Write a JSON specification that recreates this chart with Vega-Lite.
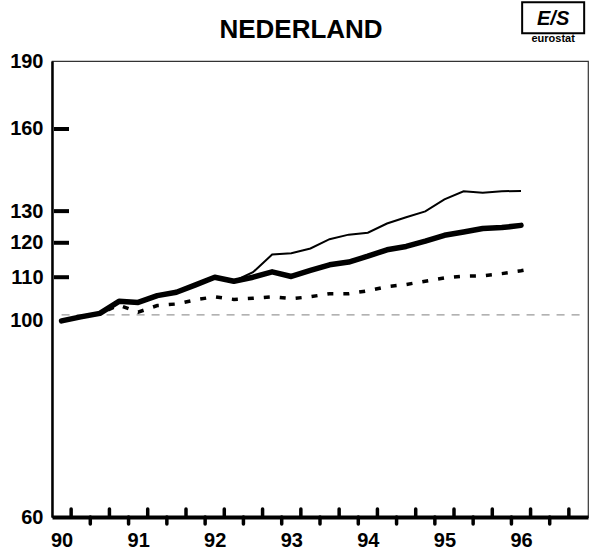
{
  "$schema": "https://vega.github.io/schema/vega-lite/v6.json",
  "autosize": "none",
  "bounds": "flush",
  "width": 536,
  "height": 456,
  "padding": {"left": 52, "top": 61, "right": 1, "bottom": 42},
  "background": "white",
  "title": {
    "text": "NEDERLAND",
    "font": "Liberation Sans",
    "fontSize": 26,
    "fontWeight": "bold",
    "color": "black",
    "anchor": "middle",
    "baseline": "alphabetic",
    "offset": -63,
    "dx": -19
  },
  "config": {
    "view": {"stroke": "#333", "strokeWidth": 1.2},
    "font": "Liberation Sans"
  },
  "datasets": {
    "series": [
      {"t": 1990.125, "thick": 98.5, "thin": 98.5, "dotted": 98.5},
      {"t": 1990.375, "thick": 99.5, "thin": 99.5, "dotted": 99.5},
      {"t": 1990.625, "thick": 100.4, "thin": 100.4, "dotted": 100.4},
      {"t": 1990.875, "thick": 103.5, "thin": 103.5, "dotted": 102.5},
      {"t": 1991.125, "thick": 103.2, "thin": 103.2, "dotted": 100.7},
      {"t": 1991.375, "thick": 105.0, "thin": 105.0, "dotted": 102.4},
      {"t": 1991.625, "thick": 105.9, "thin": 105.9, "dotted": 102.8},
      {"t": 1991.875, "thick": 107.9, "thin": 107.9, "dotted": 103.9},
      {"t": 1992.125, "thick": 110.0, "thin": 110.0, "dotted": 104.7},
      {"t": 1992.375, "thick": 108.9, "thin": 108.9, "dotted": 104.0},
      {"t": 1992.625, "thick": 110.0, "thin": 111.4, "dotted": 104.3},
      {"t": 1992.875, "thick": 111.5, "thin": 116.5, "dotted": 104.7},
      {"t": 1993.125, "thick": 110.2, "thin": 116.9, "dotted": 104.2},
      {"t": 1993.375, "thick": 111.9, "thin": 118.3, "dotted": 104.7},
      {"t": 1993.625, "thick": 113.5, "thin": 121.1, "dotted": 105.5},
      {"t": 1993.875, "thick": 114.3, "thin": 122.5, "dotted": 105.5},
      {"t": 1994.125, "thick": 116.0, "thin": 123.1, "dotted": 106.3},
      {"t": 1994.375, "thick": 117.9, "thin": 126.0, "dotted": 107.4},
      {"t": 1994.625, "thick": 118.9, "thin": 128.0, "dotted": 108.0},
      {"t": 1994.875, "thick": 120.5, "thin": 129.9, "dotted": 108.9},
      {"t": 1995.125, "thick": 122.3, "thin": 133.9, "dotted": 109.8},
      {"t": 1995.375, "thick": 123.3, "thin": 136.7, "dotted": 110.3},
      {"t": 1995.625, "thick": 124.4, "thin": 136.2, "dotted": 110.4},
      {"t": 1995.875, "thick": 124.7, "thin": 136.7, "dotted": 111.0},
      {"t": 1996.125, "thick": 125.4, "thin": 136.8, "dotted": 111.8},
      {"t": 1996.25, "thick": null, "thin": null, "dotted": 112.3}
    ],
    "ticksUp": [
      {"q": 1990.25}, {"q": 1990.75}, {"q": 1991.25}, {"q": 1991.75},
      {"q": 1992.25}, {"q": 1992.75}, {"q": 1993.25}, {"q": 1993.75},
      {"q": 1994.25}, {"q": 1994.75}, {"q": 1995.25}, {"q": 1995.75},
      {"q": 1996.25}, {"q": 1996.75}
    ],
    "ticksDown": [
      {"q": 1990.5}, {"q": 1991.0}, {"q": 1991.5}, {"q": 1992.0},
      {"q": 1992.5}, {"q": 1993.0}, {"q": 1993.5}, {"q": 1994.0},
      {"q": 1994.5}, {"q": 1995.0}, {"q": 1995.5}, {"q": 1996.0},
      {"q": 1996.5}
    ],
    "yTicks": [{"v": 110}, {"v": 120}, {"v": 130}, {"v": 160}]
  },
  "layer": [
    {
      "data": {"values": [{"y": 100, "x1": 1990.125, "x2": 1996.96}]},
      "mark": {"type": "rule", "color": "#999", "strokeWidth": 1.2, "strokeDash": [8, 7]},
      "encoding": {
        "x": {
          "field": "x1",
          "type": "quantitative",
          "scale": {"domain": [1990, 1997], "nice": false, "zero": false},
          "axis": {
            "values": [1990.125, 1991.125, 1992.125, 1993.125, 1994.125, 1995.125, 1996.125],
            "labelExpr": "'' + (floor(datum.value) - 1900)",
            "labelFontSize": 20,
            "labelFontWeight": "bold",
            "labelColor": "black",
            "labelPadding": 13,
            "labelFlush": false,
            "ticks": false,
            "grid": false,
            "domainColor": "black",
            "domainWidth": 4,
            "title": null
          }
        },
        "x2": {"field": "x2"},
        "y": {
          "field": "y",
          "type": "quantitative",
          "scale": {"type": "log", "domain": [60, 190], "nice": false},
          "axis": {
            "values": [60, 100, 110, 120, 130, 160, 190],
            "labelFontSize": 20,
            "labelFontWeight": "bold",
            "labelColor": "black",
            "labelPadding": 9,
            "labelFlush": false,
            "labelOffset": {"condition": {"test": "datum.value == 100", "value": 6}, "value": 0},
            "ticks": false,
            "grid": false,
            "domainColor": "black",
            "domainWidth": 2.5,
            "title": null
          }
        }
      }
    },
    {
      "data": {"name": "series"},
      "mark": {"type": "line", "color": "black", "strokeWidth": 2},
      "encoding": {
        "x": {"field": "t", "type": "quantitative"},
        "y": {"field": "thin", "type": "quantitative"}
      }
    },
    {
      "data": {"name": "series"},
      "mark": {"type": "line", "color": "black", "strokeWidth": 3.5, "strokeDash": [6, 10]},
      "encoding": {
        "x": {"field": "t", "type": "quantitative"},
        "y": {"field": "dotted", "type": "quantitative"}
      }
    },
    {
      "data": {"name": "series"},
      "mark": {"type": "line", "color": "black", "strokeWidth": 5.5, "strokeCap": "round", "strokeJoin": "round"},
      "encoding": {
        "x": {"field": "t", "type": "quantitative"},
        "y": {"field": "thick", "type": "quantitative"}
      }
    },
    {
      "data": {"name": "ticksUp"},
      "mark": {"type": "rule", "color": "black", "strokeWidth": 3.5, "strokeCap": "round", "y2Offset": -8, "clip": false},
      "encoding": {
        "x": {"field": "q", "type": "quantitative"},
        "y": {"datum": 60, "type": "quantitative"},
        "y2": {"datum": 60}
      }
    },
    {
      "data": {"name": "ticksDown"},
      "mark": {"type": "rule", "color": "black", "strokeWidth": 3.5, "strokeCap": "round", "y2Offset": 7, "clip": false},
      "encoding": {
        "x": {"field": "q", "type": "quantitative"},
        "y": {"datum": 60, "type": "quantitative"},
        "y2": {"datum": 60}
      }
    },
    {
      "data": {"name": "yTicks"},
      "mark": {"type": "rule", "color": "black", "strokeWidth": 4, "xOffset": 2, "x2Offset": 17},
      "encoding": {
        "x": {"datum": 1990, "type": "quantitative"},
        "x2": {"datum": 1990},
        "y": {"field": "v", "type": "quantitative"}
      }
    },
    {
      "data": {"values": [{"x1": 1996.14, "x2": 1996.95, "y1": 203.8, "y2": 220.4}]},
      "mark": {"type": "rect", "fill": "white", "stroke": "black", "strokeWidth": 2, "clip": false},
      "encoding": {
        "x": {"field": "x1", "type": "quantitative"},
        "x2": {"field": "x2"},
        "y": {"field": "y1", "type": "quantitative"},
        "y2": {"field": "y2"}
      }
    },
    {
      "data": {"values": [{"x": 1996.545, "y": 211.5, "label": "E/S"}]},
      "mark": {"type": "text", "font": "Liberation Sans", "fontSize": 20, "fontWeight": "bold", "fontStyle": "italic", "color": "black", "baseline": "middle", "align": "center", "clip": false},
      "encoding": {
        "x": {"field": "x", "type": "quantitative"},
        "y": {"field": "y", "type": "quantitative"},
        "text": {"field": "label"}
      }
    },
    {
      "data": {"values": [{"x": 1996.545, "y": 200.8, "label": "eurostat"}]},
      "mark": {"type": "text", "font": "Liberation Sans", "fontSize": 11, "fontWeight": "bold", "color": "black", "baseline": "middle", "align": "center", "clip": false},
      "encoding": {
        "x": {"field": "x", "type": "quantitative"},
        "y": {"field": "y", "type": "quantitative"},
        "text": {"field": "label"}
      }
    }
  ]
}
